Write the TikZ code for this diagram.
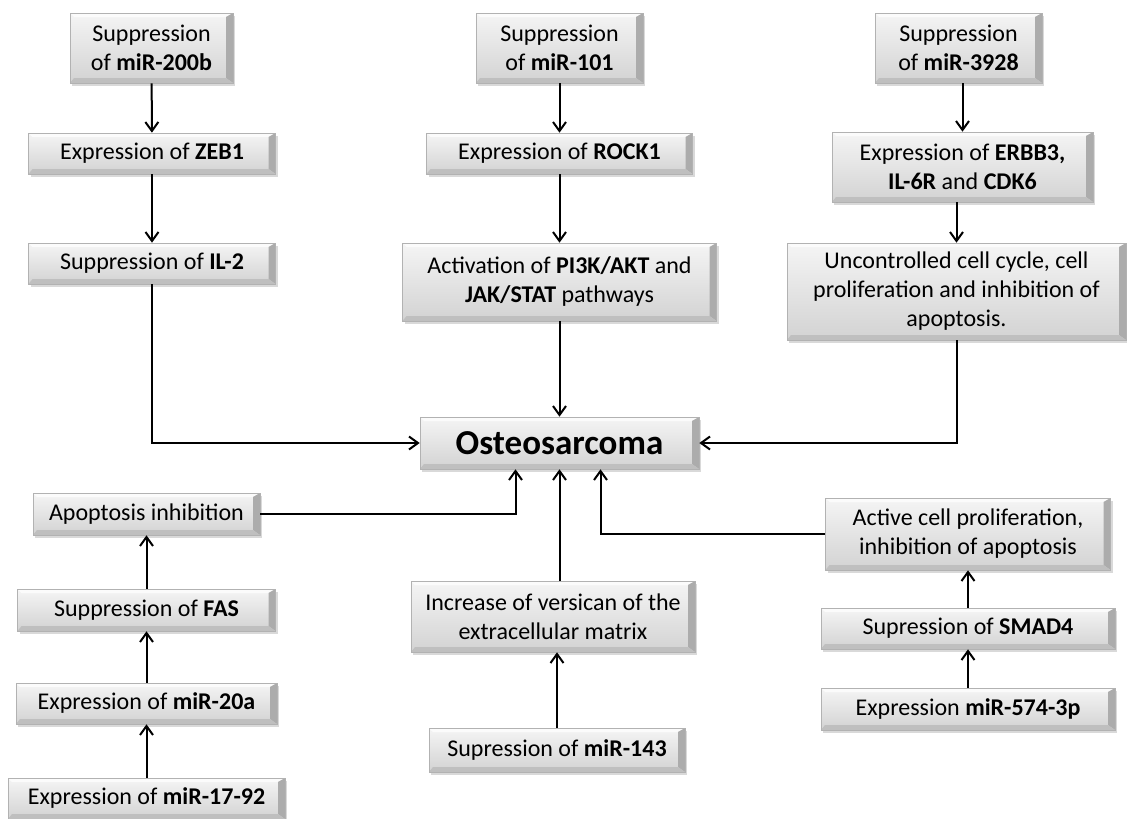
\documentclass[tikz,border=0pt]{standalone}
\usepackage{fontspec}
\setmainfont{Carlito}
\usetikzlibrary{arrows.meta,shadows,calc}

\tikzset{
    bevelbox/.style={draw=gray!60, line width=0.6pt, top color=gray!8, bottom color=gray!35,
        align=center, inner sep=0pt, font=\fontsize{24}{29}\selectfont,
        drop shadow={opacity=0.3, shadow xshift=2pt, shadow yshift=-3pt},
        path picture={
            \coordinate (ne) at (path picture bounding box.north east);
            \coordinate (se) at (path picture bounding box.south east);
            \coordinate (sw) at (path picture bounding box.south west);
            \coordinate (nw) at (path picture bounding box.north west);
            \fill[white, opacity=0.7] (nw) -- (ne) -- ([shift={(-7pt,-4pt)}]ne) -- ([shift={(4pt,-4pt)}]nw) -- cycle;
            \fill[gray!65] (ne) -- (se) -- ([shift={(-7pt,5pt)}]se) -- ([shift={(-7pt,-4pt)}]ne) -- cycle;
            \fill[gray!50] (se) -- (sw) -- ([shift={(4pt,5pt)}]sw) -- ([shift={(-7pt,5pt)}]se) -- cycle;
        }},
}

\begin{document}
\begin{tikzpicture}[x=1pt, y=-1pt, >={Straight Barb[length=9pt,width=13pt]}, line width=2pt]
    \useasboundingbox (0,0) rectangle (1127,819);

    \node[bevelbox, minimum width=163pt, minimum height=70pt] (s200b) at (151.5,48) {Suppression\\of \textbf{miR-200b}};
    \node[bevelbox, minimum width=247pt, minimum height=41pt] (zeb1) at (152,153.5) {Expression of \textbf{ZEB1}};
    \node[bevelbox, minimum width=247pt, minimum height=41pt] (il2) at (152,263.5) {Suppression of \textbf{IL-2}};

    \node[bevelbox, minimum width=167pt, minimum height=70pt] (s101) at (559.5,48) {Suppression\\of \textbf{miR-101}};
    \node[bevelbox, minimum width=266pt, minimum height=41pt] (rock1) at (559.5,153.5) {Expression of \textbf{ROCK1}};
    \node[bevelbox, minimum width=314pt, minimum height=78pt] (pi3k) at (559.5,282) {Activation of \textbf{PI3K/AKT} and\\\textbf{JAK/STAT} pathways};

    \node[bevelbox, minimum width=167pt, minimum height=70pt] (s3928) at (958.5,48) {Suppression\\of \textbf{miR-3928}};
    \node[bevelbox, minimum width=261pt, minimum height=70pt] (erbb3) at (962.5,167) {Expression of \textbf{ERBB3,}\\\textbf{IL-6R} and \textbf{CDK6}};
    \node[bevelbox, minimum width=339pt, minimum height=97pt] (uncon) at (956.5,291.5) {Uncontrolled cell cycle, cell\\proliferation and inhibition of\\apoptosis.};

    \node[bevelbox, minimum width=279pt, minimum height=52pt, font=\fontsize{35}{40}\selectfont\bfseries] (osteo) at (559.5,443) {Osteosarcoma};

    \node[bevelbox, minimum width=227pt, minimum height=42pt] (apop) at (146.5,514) {Apoptosis inhibition};
    \node[bevelbox, minimum width=258pt, minimum height=42pt] (fas) at (146.5,610) {Suppression of \textbf{FAS}};
    \node[bevelbox, minimum width=261pt, minimum height=41pt] (m20a) at (146.5,703.5) {Expression of \textbf{miR-20a}};
    \node[bevelbox, minimum width=277pt, minimum height=41pt] (m1792) at (146.5,798.5) {Expression of \textbf{miR-17-92}};

    \node[bevelbox, minimum width=284pt, minimum height=71pt] (versican) at (553,616.5) {Increase of versican of the\\extracellular matrix};
    \node[bevelbox, minimum width=256pt, minimum height=44pt] (m143) at (557,750) {Supression of \textbf{miR-143}};

    \node[bevelbox, minimum width=285pt, minimum height=72pt] (active) at (968,534) {Active cell proliferation,\\inhibition of apoptosis};
    \node[bevelbox, minimum width=294pt, minimum height=41pt] (smad4) at (968,628.5) {Supression of \textbf{SMAD4}};
    \node[bevelbox, minimum width=294pt, minimum height=42pt] (m574) at (968,709) {Expression \textbf{miR-574-3p}};

    \draw[->] (s200b) -- (zeb1);
    \draw[->] (zeb1) -- (il2);
    \draw[->] (il2.south) |- (osteo.west);

    \draw[->] (s101) -- (rock1);
    \draw[->] (rock1) -- (pi3k);
    \draw[->] (pi3k) -- (osteo);

    \draw[->] (s3928.south -| erbb3.north) -- (erbb3.north);
    \draw[->] (erbb3.south -| uncon.north) -- (uncon.north);
    \draw[->] (uncon.south) |- (osteo.east);

    \draw[->] (m1792) -- (m20a);
    \draw[->] (m20a) -- (fas);
    \draw[->] (fas) -- (apop);
    \draw[->] (apop.east) -| ($(osteo.south)+(-44,0)$);

    \draw[->] (m143.north) -- (m143.north |- versican.south);
    \draw[->] (versican.north -| osteo.south) -- (osteo.south);

    \draw[->] (m574) -- (smad4);
    \draw[->] (smad4) -- (active);
    \draw[->] (active.west) -| ($(osteo.south)+(41,0)$);
\end{tikzpicture}
\end{document}
